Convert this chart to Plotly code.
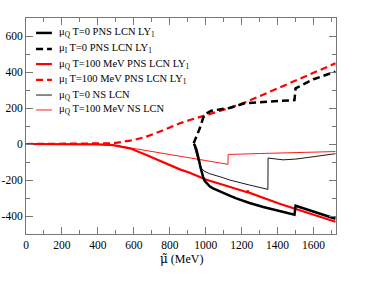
import plotly.graph_objects as go

# ---- data (MeV) ----
bq_pns_T0_x = [933, 939, 948, 957, 965, 970, 976, 985, 994, 1004, 1022, 1041, 1096, 1133, 1170, 1244, 1320, 1411, 1494, 1500, 1600, 1722]
bq_pns_T0_y = [0, -6, -30, -61, -100, -126, -155, -181, -205, -218, -235, -246, -272, -287, -302, -328, -350, -372, -393, -343, -376, -415]

bi_pns_T0_x = [933, 948, 967, 985, 994, 1004, 1031, 1133, 1217, 1300, 1400, 1494, 1500, 1600, 1722]
bi_pns_T0_y = [4, 41, 87, 143, 161, 170, 185, 200, 226, 232, 238, 244, 309, 360, 402]

rq_pns_T100_x = [0, 300, 400, 485, 578, 670, 760, 856, 911, 1000, 1100, 1230, 1233, 1240, 1411, 1600, 1722]
rq_pns_T100_y = [0, 0, -2, -6, -24, -61, -100, -141, -160, -197, -228, -268, -259, -270, -332, -392, -432]

ri_pns_T100_x = [0, 300, 485, 600, 670, 760, 856, 911, 1000, 1100, 1217, 1300, 1400, 1500, 1600, 1722]
ri_pns_T100_y = [0, 0, 4, 22, 41, 75, 115, 133, 160, 190, 230, 266, 309, 352, 396, 448]

bq_ns_T0_x = [933, 939, 948, 957, 967, 976, 990, 1022, 1096, 1133, 1244, 1346, 1347, 1400, 1430, 1500, 1600, 1722]
bq_ns_T0_y = [0, -24, -58, -89, -115, -135, -150, -165, -187, -200, -228, -252, -78, -86, -88, -84, -72, -54]

rq_ns_T100_x = [0, 300, 400, 500, 600, 700, 800, 900, 1000, 1124, 1125, 1300, 1500, 1722]
rq_ns_T100_y = [0, 0, -2, -8, -24, -42, -58, -75, -92, -113, -58, -53, -48, -42]

legend_labels = [
    "μ<sub>Q</sub> T=0 PNS LCN LY<sub>1</sub>",
    "μ<sub>I</sub> T=0 PNS LCN LY<sub>1</sub>",
    "μ<sub>Q</sub> T=100 MeV PNS LCN LY<sub>1</sub>",
    "μ<sub>I</sub> T=100 MeV PNS LCN LY<sub>1</sub>",
    "μ<sub>Q</sub> T=0 NS LCN",
    "μ<sub>Q</sub> T=100 MeV NS LCN",
]
x_ticks = [0, 200, 400, 600, 800, 1000, 1200, 1400, 1600]
y_ticks = [-400, -200, 0, 200, 400, 600]

FONT = "Liberation Serif"
DASH = "7px,4px"

styles = [
    dict(color="black", width=2.5, dash="solid"),
    dict(color="black", width=2.5, dash=DASH),
    dict(color="red", width=2.2, dash="solid"),
    dict(color="red", width=2.2, dash=DASH),
    dict(color="black", width=0.9, dash="solid"),
    dict(color="red", width=0.9, dash="solid"),
]
series = [
    (bq_pns_T0_x, bq_pns_T0_y),
    (bi_pns_T0_x, bi_pns_T0_y),
    (rq_pns_T100_x, rq_pns_T100_y),
    (ri_pns_T100_x, ri_pns_T100_y),
    (bq_ns_T0_x, bq_ns_T0_y),
    (rq_ns_T100_x, rq_ns_T100_y),
]

fig = go.Figure()
order = [5, 4, 3, 2, 1, 0]
for i in order:
    xs, ys = series[i]
    fig.add_trace(go.Scatter(x=xs, y=ys, mode="lines", line=styles[i],
                             name=legend_labels[i], showlegend=False))

# manual legend
leg_y = [617, 528, 444, 356, 272, 189]
for i, lab in enumerate(legend_labels):
    st = styles[i]
    fig.add_shape(type="line", xref="x", yref="y", x0=56, x1=144, y0=leg_y[i], y1=leg_y[i],
                  line=dict(color=st["color"], width=st["width"], dash=st["dash"]))
    fig.add_annotation(x=172, y=leg_y[i], xref="x", yref="y", text=lab, showarrow=False,
                       xanchor="left", yanchor="middle",
                       font=dict(family=FONT, size=10.5, color="black"))

# x-axis title as annotation below the axis
fig.add_annotation(x=0.5, y=-0.075, xref="paper", yref="paper",
                   text="<span style='font-family:DejaVu Serif'>μ̃</span> (MeV)",
                   showarrow=False, xanchor="center", yanchor="top",
                   font=dict(family=FONT, size=12, color="black"))

axis_common = dict(showline=True, linecolor="#777", linewidth=1, mirror="ticks",
                   ticks="inside", ticklen=7, tickcolor="#777", tickwidth=1,
                   showgrid=False, zeroline=False, automargin=False,
                   tickfont=dict(family=FONT, size=11.5, color="black"))

fig.update_xaxes(range=[0, 1725], tickmode="array", tickvals=x_ticks,
                 ticktext=[str(v) for v in x_ticks],
                 minor=dict(tickmode="linear", tick0=0, dtick=100, ticklen=4, tickcolor="#777", ticks="inside"),
                 **axis_common)
fig.update_yaxes(range=[-500, 700], tickmode="array", tickvals=y_ticks,
                 ticktext=[str(v) for v in y_ticks],
                 minor=dict(tickmode="linear", tick0=0, dtick=100, ticklen=4, tickcolor="#777", ticks="inside"),
                 **axis_common)

fig.update_layout(width=381, height=281, margin=dict(l=26, r=45, t=18, b=47),
                  paper_bgcolor="white", plot_bgcolor="white",
                  font=dict(family=FONT, color="black"), showlegend=False)

fig.write_html("out.html", config={"displayModeBar": False},
               post_script="document.body.style.margin='0px';")
